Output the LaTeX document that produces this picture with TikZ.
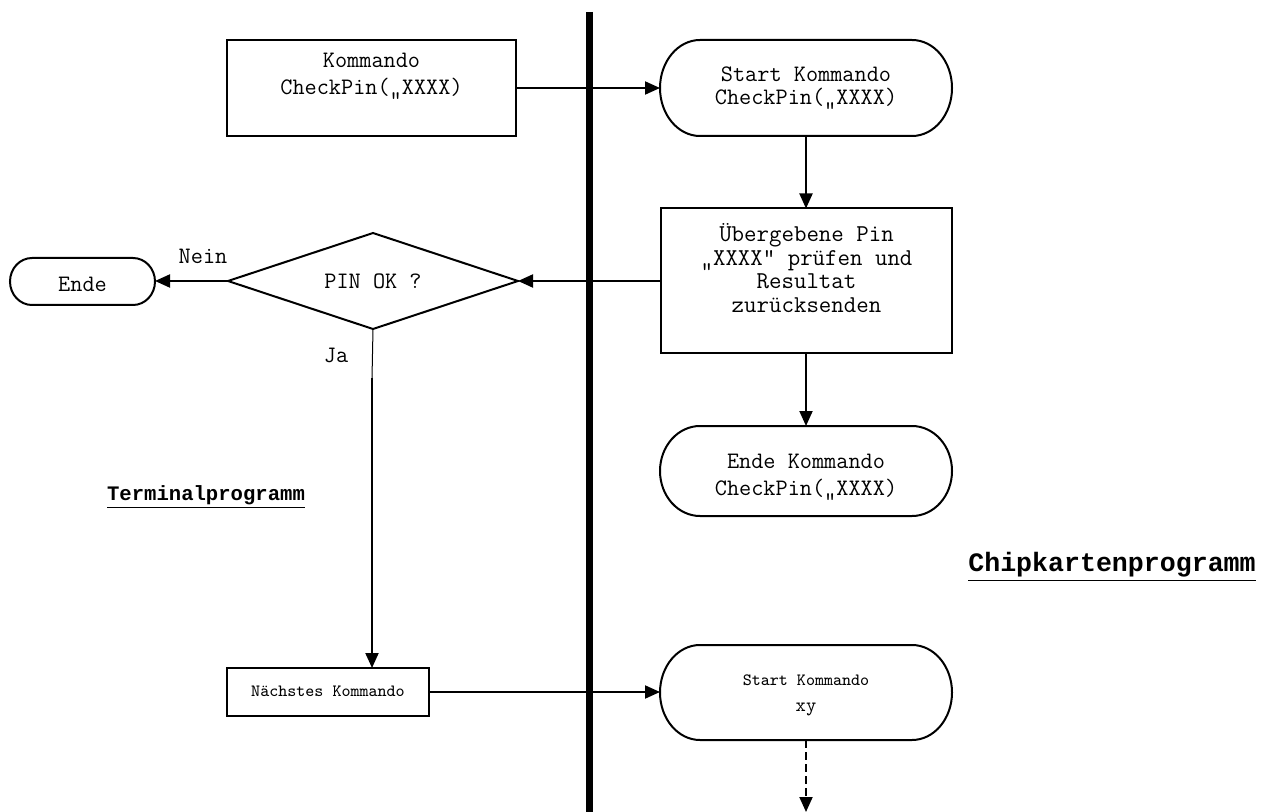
\documentclass[tikz,border=0pt]{standalone}
\usepackage{fontspec}
\newfontfamily\cour{Liberation Mono}
\usetikzlibrary{arrows.meta}
\newcommand\stadiumdraw[3]{%
  \draw[line width=1pt] ([xshift=#2]#1.north west) -- ([xshift=-#2]#1.north east)
    arc[start angle=90,end angle=-90,x radius=#2,y radius=#3]
    -- ([xshift=#2]#1.south west)
    arc[start angle=270,end angle=90,x radius=#2,y radius=#3] -- cycle;}
\newcommand\tfs[2]{\ttfamily\fontsize{#1}{#2}\selectfont}
\tikzset{
  box/.style={draw, line width=1pt, inner sep=0pt, outer sep=0pt},
  shp/.style={inner sep=0pt, outer sep=0pt},
  txt/.style={font=\tfs{11.8}{12}, align=center, inner sep=0pt},
  conn/.style={line width=1pt, -{Triangle[length=7.5pt,width=6.5pt]}},
  bigtitle/.style={font=\cour\bfseries\fontsize{13.3}{15}\selectfont, inner sep=0pt},
  smalltitle/.style={font=\cour\bfseries\fontsize{10.3}{12}\selectfont, inner sep=0pt},
}
\begin{document}
\begin{tikzpicture}[x=0.5pt,y=-0.5pt]
\useasboundingbox (0,0) rectangle (1268,812);
% separator
\coordinate (ltop) at (589,12);
\coordinate (lbot) at (589,812);
\draw[line width=3.5pt] (ltop) -- (lbot);
% nodes
\node[box, minimum width=144.5pt, minimum height=48pt] (box1) at (371.5,88) {};
\node[txt, font=\tfs{11.8}{13.5}] (t1) at (371.5,76) {Kommando\\CheckPin(„XXXX)};
\node[shp, minimum width=146pt, minimum height=48pt] (s1) at (806,88) {};
\stadiumdraw{s1}{20pt}{24pt}
\node[txt, font=\tfs{11.8}{11.5}] (t2) at (806,88.5) {Start Kommando\\CheckPin(„XXXX)};
\node[box, minimum width=145.5pt, minimum height=72.5pt] (box2) at (806.5,281) {};
\node[txt, font=\tfs{12.1}{11.9}] (t3) at (806.5,268) {Übergebene Pin\\„XXXX“ prüfen und\\Resultat\\zurücksenden};
\node[shp, minimum width=145pt, minimum height=48pt] (dia) at (373,281) {};
\draw[line width=1pt] (dia.west) -- (dia.north) -- (dia.east) -- (dia.south) -- cycle;
\node[txt] (t4) at (373,281) {PIN OK ?};
\node[shp, minimum width=72.5pt, minimum height=23.5pt] (ende) at (82.5,281.5) {};
\stadiumdraw{ende}{11pt}{11.75pt}
\node[txt] (t5) at (82.5,284) {Ende};
\node[shp, minimum width=146pt, minimum height=45pt] (s2) at (806,471) {};
\stadiumdraw{s2}{20pt}{22.5pt}
\node[txt, font=\tfs{11.8}{13.5}] (t6) at (806,477) {Ende Kommando\\CheckPin(„XXXX)};
\node[box, minimum width=101pt, minimum height=24pt] (box3) at (328,692) {};
\node[txt, font=\tfs{8.6}{10}] (t7) at (328,691) {Nächstes Kommando};
\node[shp, minimum width=146pt, minimum height=47.5pt] (s3) at (806,692.5) {};
\stadiumdraw{s3}{20pt}{23.75pt}
\node[txt, font=\tfs{8.6}{13}] (t8) at (806,695) {Start Kommando\\{\tfs{9.8}{13}xy}};
% labels
\node[txt] (nein) at (203,256) {Nein};
\node[txt] (ja) at (336,355) {Ja};
\node[smalltitle] (term) at (206,497) {\underline{Terminalprogramm}};
\node[bigtitle] (chip) at (1112,567) {\underline{Chipkartenprogramm}};
% connectors
\draw[conn] (box1.east) -- (box1.east -| s1.west);
\draw[conn] (s1.south) -- (box2.north -| s1.south);
\draw[conn] (box2.west) -- (dia.east);
\draw[conn] (dia.west) -- (dia.west -| ende.east);
\draw[conn] (box2.south -| s2.north) -- (s2.north);
\coordinate (jabreak) at (372,378);
\draw[line width=0.5pt] (dia.south) -- (jabreak);
\draw[conn] (jabreak) -- (jabreak |- box3.north);
\draw[conn] (box3.east) -- (box3.east -| s3.west);
\coordinate (dashend) at (806,812);
\draw[conn, dashed, dash pattern=on 4pt off 2pt] (s3.south) -- (dashend);
\end{tikzpicture}
\end{document}
